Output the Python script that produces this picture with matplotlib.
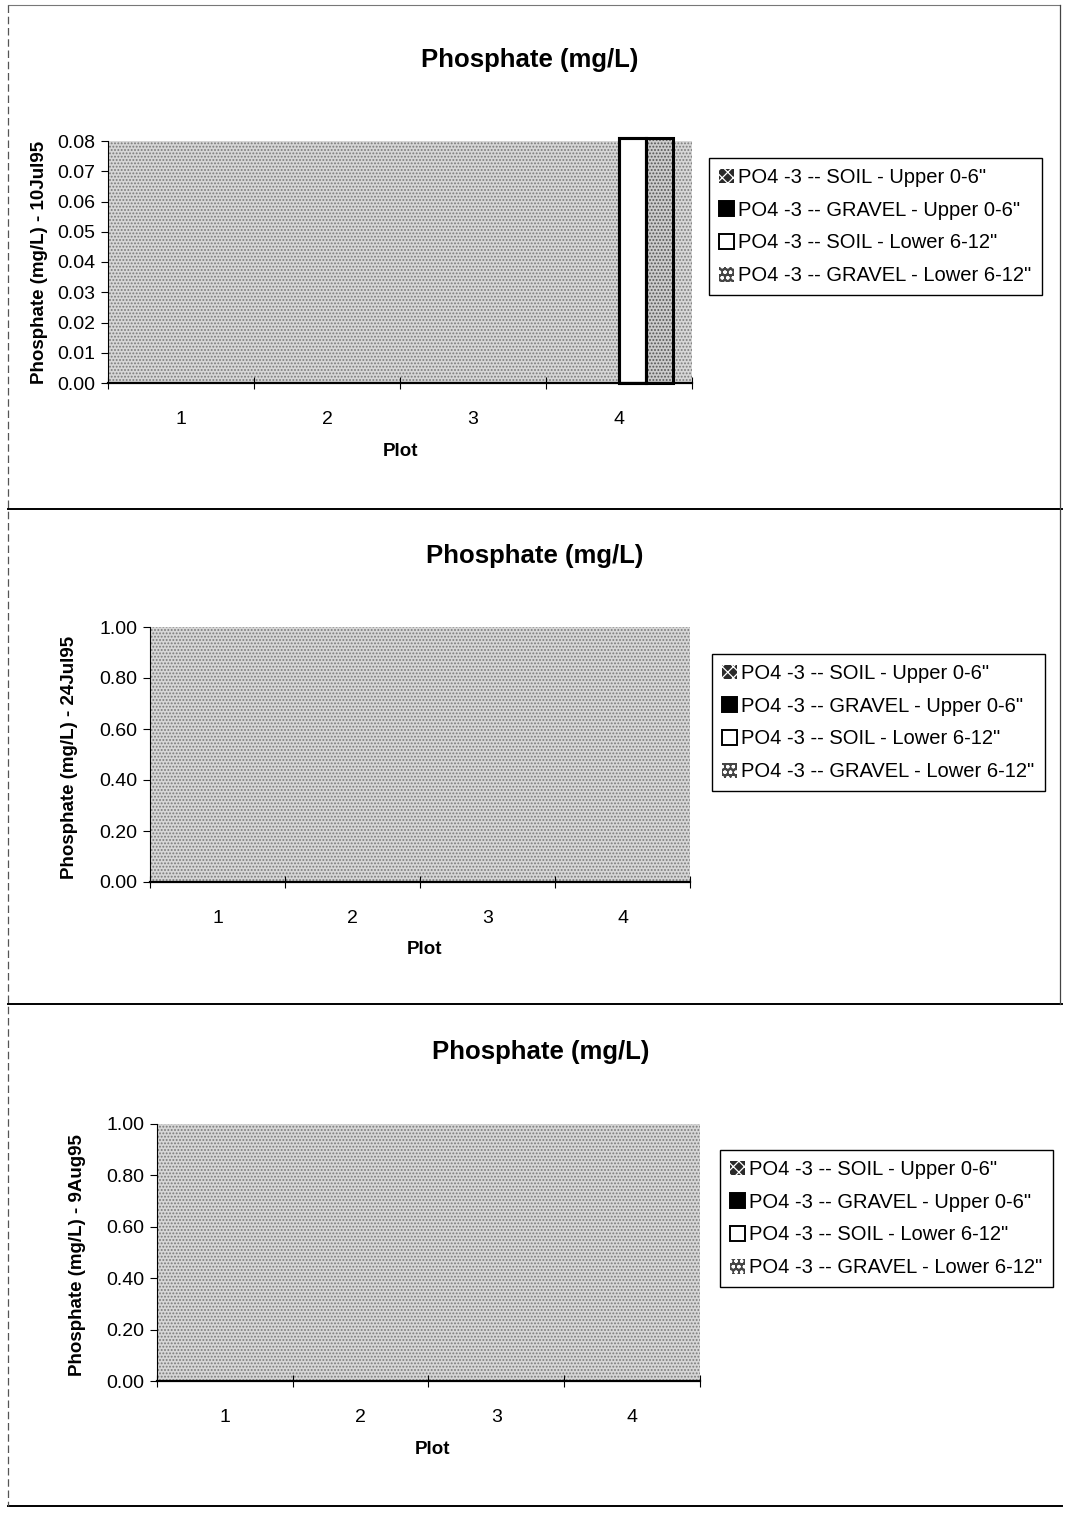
import matplotlib
matplotlib.use("Agg")
import matplotlib.pyplot as plt
from matplotlib.patches import Rectangle
from matplotlib.lines import Line2D
import numpy as np

plt.rcParams['font.family'] = ['Liberation Sans', 'DejaVu Sans']
plt.rcParams['hatch.linewidth'] = 0.9

# ---- data ----
plots = ["1", "2", "3", "4"]
series_names = [
    'PO4 -3 -- SOIL - Upper 0-6"',
    'PO4 -3 -- GRAVEL - Upper 0-6"',
    'PO4 -3 -- SOIL - Lower 6-12"',
    'PO4 -3 -- GRAVEL - Lower 6-12"',
]
dates = ["10Jul95", "24Jul95", "9Aug95"]

# 10 Jul 95
jul10_soil_upper = [0.0, 0.0, 0.0, 0.0]
jul10_gravel_upper = [0.0, 0.0, 0.0, 0.0]
jul10_soil_lower = [0.0, 0.0, 0.0, 0.081]
jul10_gravel_lower = [0.0, 0.0, 0.0, 0.081]
# 24 Jul 95
jul24_soil_upper = [0.0, 0.0, 0.0, 0.0]
jul24_gravel_upper = [0.0, 0.0, 0.0, 0.0]
jul24_soil_lower = [0.0, 0.0, 0.0, 0.0]
jul24_gravel_lower = [0.0, 0.0, 0.0, 0.0]
# 9 Aug 95
aug9_soil_upper = [0.0, 0.0, 0.0, 0.0]
aug9_gravel_upper = [0.0, 0.0, 0.0, 0.0]
aug9_soil_lower = [0.0, 0.0, 0.0, 0.0]
aug9_gravel_lower = [0.0, 0.0, 0.0, 0.0]

yticks_jul10 = [0.00, 0.01, 0.02, 0.03, 0.04, 0.05, 0.06, 0.07, 0.08]
yticks_later = [0.00, 0.20, 0.40, 0.60, 0.80, 1.00]

panels = [
    dict(date=dates[0],
         data=[jul10_soil_upper, jul10_gravel_upper, jul10_soil_lower, jul10_gravel_lower],
         yticks=yticks_jul10),
    dict(date=dates[1],
         data=[jul24_soil_upper, jul24_gravel_upper, jul24_soil_lower, jul24_gravel_lower],
         yticks=yticks_later),
    dict(date=dates[2],
         data=[aug9_soil_upper, aug9_gravel_upper, aug9_soil_lower, aug9_gravel_lower],
         yticks=yticks_later),
]

# ---- layout (pixels) ----
W, H = 1065, 1522
fig = plt.figure(figsize=(W / 100, H / 100), dpi=100)


def fx(x):
    return x / W


def fy(y):
    return 1 - y / H


layout = [
    dict(ax=(108, 141, 692, 383), title=(530, 60), legend=(709, 158),
         ylab=(40, 262), plot=(401, 452)),
    dict(ax=(150, 627, 690, 882), title=(535, 556), legend=(712, 654),
         ylab=(70, 757), plot=(424, 950)),
    dict(ax=(157, 1124, 700, 1381), title=(541, 1052), legend=(720, 1150),
         ylab=(77, 1255), plot=(432, 1449)),
]

styles = [
    dict(facecolor="#2a2a2a", edgecolor="white", hatch="xxx"),
    dict(facecolor="black", edgecolor="black", hatch=None),
    dict(facecolor="white", edgecolor="black", hatch=None),
    dict(facecolor="#cccccc", edgecolor="#555555", hatch="....."),
]

bar_w = 0.185
x = np.arange(1, len(plots) + 1)

for p, lay in zip(panels, layout):
    l, t, r, b = lay["ax"]
    ax = fig.add_axes([fx(l), fy(b), fx(r) - fx(l), fy(t) - fy(b)])
    ax.set_facecolor("white")
    # dotted plot-area fill
    ax.add_patch(Rectangle((0, 0), 1, 1, transform=ax.transAxes,
                           facecolor="#d6d6d6", edgecolor="#7a7a7a",
                           hatch=".....", linewidth=0, zorder=0))

    for i, (vals, st) in enumerate(zip(p["data"], styles)):
        offs = (i - 1.5) * bar_w
        bars = ax.bar(x + offs, vals, width=bar_w, facecolor=st["facecolor"],
                      edgecolor=st["edgecolor"] if st["hatch"] else "black",
                      hatch=st["hatch"], linewidth=0 if st["hatch"] else 2.2,
                      zorder=2, clip_on=False)
        for bar, v in zip(bars, vals):
            if v <= 0:
                bar.set_visible(False)
                continue
            # black outline drawn on top of hatched fills
            ax.add_patch(Rectangle(bar.get_xy(), bar.get_width(), bar.get_height(),
                                   fill=False, edgecolor="black", linewidth=2.2,
                                   zorder=3, clip_on=False))

    ax.set_xlim(0.5, 4.5)
    yt = p["yticks"]
    ax.set_ylim(yt[0], yt[-1])
    ax.set_yticks(yt)
    ax.set_yticklabels([f"{v:.2f}" for v in yt], fontsize=14)
    ax.tick_params(axis="y", length=5, width=0.8, direction="out", pad=4)

    ax.set_xticks(x)
    ax.set_xticklabels(plots, fontsize=14)
    ax.tick_params(axis="x", which="major", length=0, pad=20)
    ax.set_xticks(np.arange(0.5, 4.6, 1.0), minor=True)
    ax.tick_params(axis="x", which="minor", length=8, width=0.8, direction="inout")

    for s in ("top", "right"):
        ax.spines[s].set_visible(False)
    ax.spines["left"].set_linewidth(0.8)
    ax.spines["bottom"].set_linewidth(1.6)

    fig.text(fx(lay["title"][0]), fy(lay["title"][1]), "Phosphate (mg/L)",
             ha="center", va="center", fontsize=18.5, fontweight="bold")
    fig.text(fx(lay["ylab"][0]), fy(lay["ylab"][1]),
             f"Phosphate (mg/L) - {p['date']}", rotation=90,
             ha="center", va="center", fontsize=13.5, fontweight="bold")
    fig.text(fx(lay["plot"][0]), fy(lay["plot"][1]), "Plot",
             ha="center", va="center", fontsize=13.5, fontweight="bold")

    handles = [Rectangle((0, 0), 1, 1, facecolor=st["facecolor"],
                         edgecolor=st["edgecolor"] if st["hatch"] else "black",
                         hatch=st["hatch"], linewidth=0 if st["hatch"] else 1.4)
               for st in styles]
    handles[3] = Rectangle((0, 0), 1, 1, facecolor="#444444", edgecolor="white",
                           hatch="ooo", linewidth=0)
    leg = ax.legend(handles, series_names, loc="upper left",
                    bbox_to_anchor=(fx(lay["legend"][0]), fy(lay["legend"][1])),
                    bbox_transform=fig.transFigure, fontsize=14.5,
                    frameon=True, fancybox=False, handlelength=0.75,
                    handleheight=0.75, handletextpad=0.2, labelspacing=0.68,
                    borderpad=0.5, borderaxespad=0, framealpha=1)
    leg.get_frame().set_edgecolor("black")
    leg.get_frame().set_linewidth(1.0)

# panel borders
line_kw = dict(color="black", linewidth=1.4)
for yy in (509, 1004, 1506):
    fig.add_artist(Line2D([fx(8), fx(1062)], [fy(yy), fy(yy)], **line_kw))
fig.add_artist(Line2D([fx(8), fx(1060)], [fy(5), fy(5)], color="#777777", linewidth=0.8))
fig.add_artist(Line2D([fx(8), fx(8)], [fy(5), fy(1506)], color="#555555",
                      linewidth=0.9, linestyle=(0, (6, 3))))
fig.add_artist(Line2D([fx(1060), fx(1060)], [fy(5), fy(1004)], color="#444444",
                      linewidth=0.9))

fig.savefig("out.png", dpi=100)
